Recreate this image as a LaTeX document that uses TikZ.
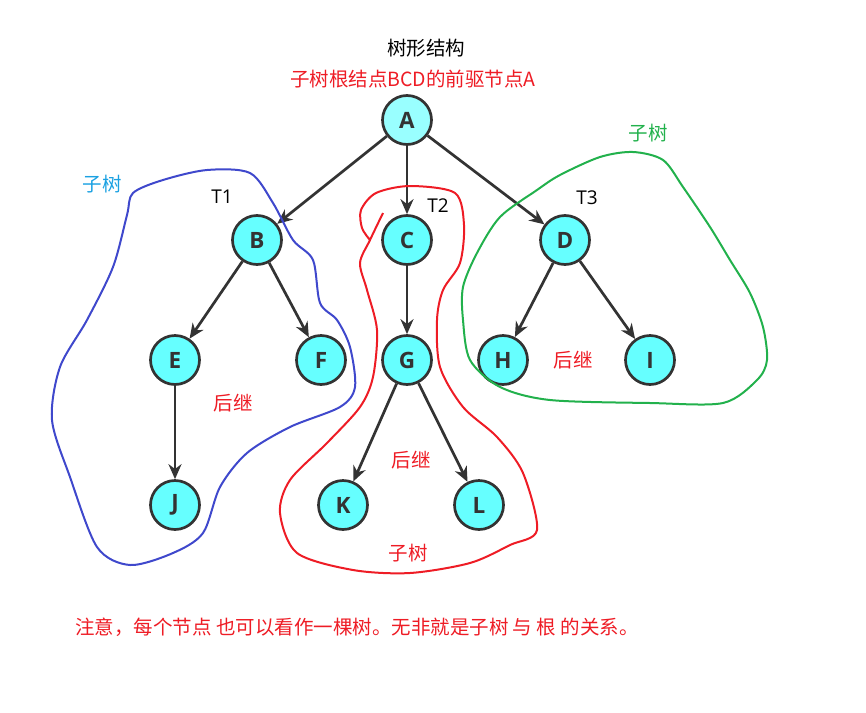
\documentclass[tikz,border=0pt]{standalone}
\usepackage{fontspec}
\setmainfont{Open Sans}
\newfontfamily\cjk{Noto Sans CJK SC}
\usetikzlibrary{arrows.meta}
\definecolor{cnode}{HTML}{66FFFF}
\definecolor{croot}{HTML}{99FFFF}
\definecolor{cedge}{HTML}{333333}
\definecolor{cred}{HTML}{EE1C25}
\definecolor{cblue}{HTML}{3F48CC}
\definecolor{csky}{HTML}{1BA1E2}
\definecolor{cgreen}{HTML}{22B14C}
\tikzset{
  every picture/.style={x=1pt, y=-1pt},
  vertex/.style={circle, draw=cedge, fill=#1, line width=2.7pt, minimum size=49pt, inner sep=0pt,
    font=\fontsize{22.5}{22.5}\selectfont\bfseries, text=cedge},
  vertex/.default=cnode,
  arrow/.style={-{Stealth[length=15pt, width=13pt]}, draw=cedge, line width=2.7pt},
  note/.style={font=\cjk\fontsize{19.5}{22}\selectfont, text=#1, inner sep=0pt},
  note/.default=cred,
  tag/.style={font=\fontsize{19}{22}\selectfont, inner sep=0pt},
  hull/.style={draw=#1, line width=2pt, line join=round},
}

\begin{document}
\begin{tikzpicture}
  \useasboundingbox (0,0) rectangle (866,712);
  % tree
  \node[vertex=croot] (A) at (407,120) {A};
  \node[vertex] (B) at (257,240) {B};
  \node[vertex] (C) at (407,240) {C};
  \node[vertex] (D) at (565,240) {D};
  \node[vertex] (E) at (175,360) {E};
  \node[vertex] (F) at (321,360) {F};
  \node[vertex] (G) at (407,360) {G};
  \node[vertex] (H) at (503,360) {H};
  \node[vertex] (I) at (650,360) {I};
  \node[vertex] (J) at (175,505) {J};
  \node[vertex] (K) at (343,505) {K};
  \node[vertex] (L) at (479,505) {L};
  \draw[arrow] (A) -- (B);
  \draw[arrow] (A) -- (C);
  \draw[arrow] (A) -- (D);
  \draw[arrow] (B) -- (E);
  \draw[arrow] (B) -- (F);
  \draw[arrow] (E) -- (J);
  \draw[arrow] (C) -- (G);
  \draw[arrow] (G) -- (K);
  \draw[arrow] (G) -- (L);
  \draw[arrow] (D) -- (H);
  \draw[arrow] (D) -- (I);
  % labels
  \node[note=black] (title) at (426,48) {树形结构};
  \node[note] (root) at (413,79) {子树根结点BCD的前驱节点A};
  \node[tag] (t1) at (222,197) {T1};
  \node[tag] (t2) at (438,206) {T2};
  \node[tag] (t3) at (587,198) {T3};
  \node[note=csky] (sub1) at (102,184) {子树};
  \node[note=cgreen] (sub3) at (648,133) {子树};
  \node[note] (sub2) at (408,553) {子树};
  \node[note] (next1) at (233,403) {后继};
  \node[note] (next2) at (411,460) {后继};
  \node[note] (next3) at (573,360) {后继};
  \node[note, anchor=west] (remark) at (75,627) {注意，每个节点 也可以看作一棵树。无非就是子树 与 根 的关系。};
  % hand-drawn hulls
  \draw[hull=cblue] plot[smooth cycle] coordinates {(133,193) (163,180) (207,170) (250,173) (273,203)
    (293,240) (313,260) (320,303) (337,320) (350,347) (355,387) (340,407) (290,427) (247,453)
    (220,487) (203,533) (173,553) (130,565) (97,547) (70,477) (52,420) (60,367) (87,320) (113,267) (127,215)};
  \draw[hull=cred] plot[smooth] coordinates {(383,213) (370,240) (360,263) (367,290) (377,330)
    (373,377) (360,407) (327,443) (290,480) (280,513) (297,553) (353,570) (410,573) (470,563)
    (510,545) (537,530) (523,473) (497,437) (463,407) (440,367) (437,320) (443,290) (460,263)
    (464,225) (455,193) (410,186) (376,193) (361,210) (362,228) (370,240)};
  \draw[hull=cgreen] plot[smooth cycle] coordinates {(600,157) (633,152) (663,160) (683,187)
    (710,227) (730,260) (750,293) (763,327) (767,360) (757,380) (723,403) (650,403) (550,400)
    (500,387) (470,360) (463,320) (463,287) (477,253) (500,217) (537,190) (560,175)};
\end{tikzpicture}
\end{document}
